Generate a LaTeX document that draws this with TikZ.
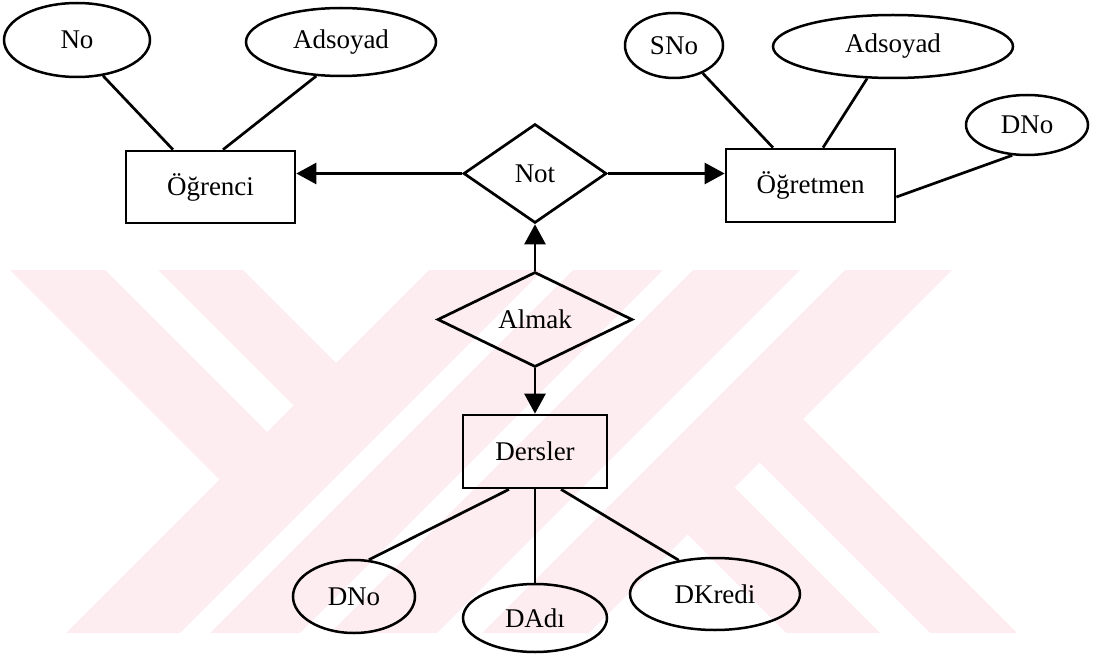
\documentclass[tikz,border=0pt]{standalone}
\usepackage{fontspec}
\setmainfont{Liberation Serif}
\usetikzlibrary{shapes.geometric,arrows.meta}
\definecolor{wmpink}{RGB}{253,237,240}
\begin{document}
\begin{tikzpicture}[x=1bp,y=-1bp,
  every node/.style={font=\fontsize{27bp}{31bp}\selectfont, inner sep=0pt},
  entity/.style={draw, rectangle, line width=2.7bp},
  attr/.style={draw, ellipse, line width=2.5bp},
  rel/.style={draw, diamond, aspect=1, line width=2.7bp},
  link/.style={line width=2.7bp},
  arr/.style={link, -{Triangle[length=20bp,width=21bp]}}]
\useasboundingbox (0,0) rectangle (1096,658);

% pale background emblem made of diagonal bands
\fill[wmpink] (10,270) -- (105,270) -- (267,432) -- (219.5,479.5) -- cycle;
\fill[wmpink] (158,270) -- (243,270) -- (336,363) -- (293.5,405.5) -- cycle;
\fill[wmpink] (429,270) -- (543,270) -- (180,633) -- (66,633) -- cycle;
\fill[wmpink] (573,270) -- (663,270) -- (300,633) -- (210,633) -- cycle;
\fill[wmpink] (693,270) -- (800,270) -- (437,633) -- (330,633) -- cycle;
\fill[wmpink] (845,270) -- (952,270) -- (589,633) -- (482,633) -- cycle;
\fill[wmpink] (687.5,534.5) -- (734.5,487.5) -- (880,633) -- (786,633) -- cycle;
\fill[wmpink] (759.5,462.5) -- (803,419) -- (1017,633) -- (930,633) -- cycle;

% entities and relationships
\node[entity, minimum width=169bp, minimum height=72bp] (Ogrenci) at (210.5,187) {Öğrenci};
\node[entity, minimum width=169bp, minimum height=73bp] (Ogretmen) at (810.5,185.5) {Öğretmen};
\node[entity, minimum width=144bp, minimum height=73bp] (Dersler) at (535,451.5) {Dersler};
\node[rel, minimum width=143bp, minimum height=99bp] (Not) at (535,173.5) {Not};
\node[rel, minimum width=195bp, minimum height=95bp] (Almak) at (535,319.5) {Almak};

% attributes
\node[attr, minimum width=146bp, minimum height=74bp] (No) at (77,40) {No};
\node[attr, minimum width=190bp, minimum height=68bp] (AdsL) at (341,42) {Adsoyad};
\node[attr, minimum width=98bp, minimum height=65bp] (SNo) at (674,45.5) {SNo};
\node[attr, minimum width=240bp, minimum height=63bp] (AdsR) at (893,46.5) {Adsoyad};
\node[attr, minimum width=122bp, minimum height=60bp] (DNoT) at (1027,125) {DNo};
\node[attr, minimum width=122bp, minimum height=73bp] (DNoB) at (354,596.5) {DNo};
\node[attr, minimum width=144bp, minimum height=68bp] (DAdi) at (535,618) {DAdı};
\node[attr, minimum width=170bp, minimum height=72bp] (DKredi) at (715,594) {DKredi};

% attribute links
\draw[link] (No.-54) -- ([xshift=-37.5bp]Ogrenci.north);
\draw[link] (AdsL.-126) -- ([xshift=12.5bp]Ogrenci.north);
\draw[link] (SNo.-44) -- ([xshift=-37.5bp]Ogretmen.north);
\draw[link] (AdsR.-129) -- ([xshift=12.5bp]Ogretmen.north);
\draw[link] (DNoT.-116) -- ([yshift=-11.5bp]Ogretmen.east);
\draw[link] ([xshift=-26bp]Dersler.south) -- (DNoB.68);
\draw[link] (Dersler.south) -- (DAdi.north);
\draw[link] ([xshift=26bp]Dersler.south) -- (DKredi.137);

% relationship arrows
\draw[arr] (Not.west) -- (Not.west -| Ogrenci.east);
\draw[arr] (Not.east) -- (Not.east -| Ogretmen.west);
\draw[arr] (Almak.north) -- (Not.south);
\draw[arr] (Almak.south) -- (Dersler.north);
\end{tikzpicture}
\end{document}
